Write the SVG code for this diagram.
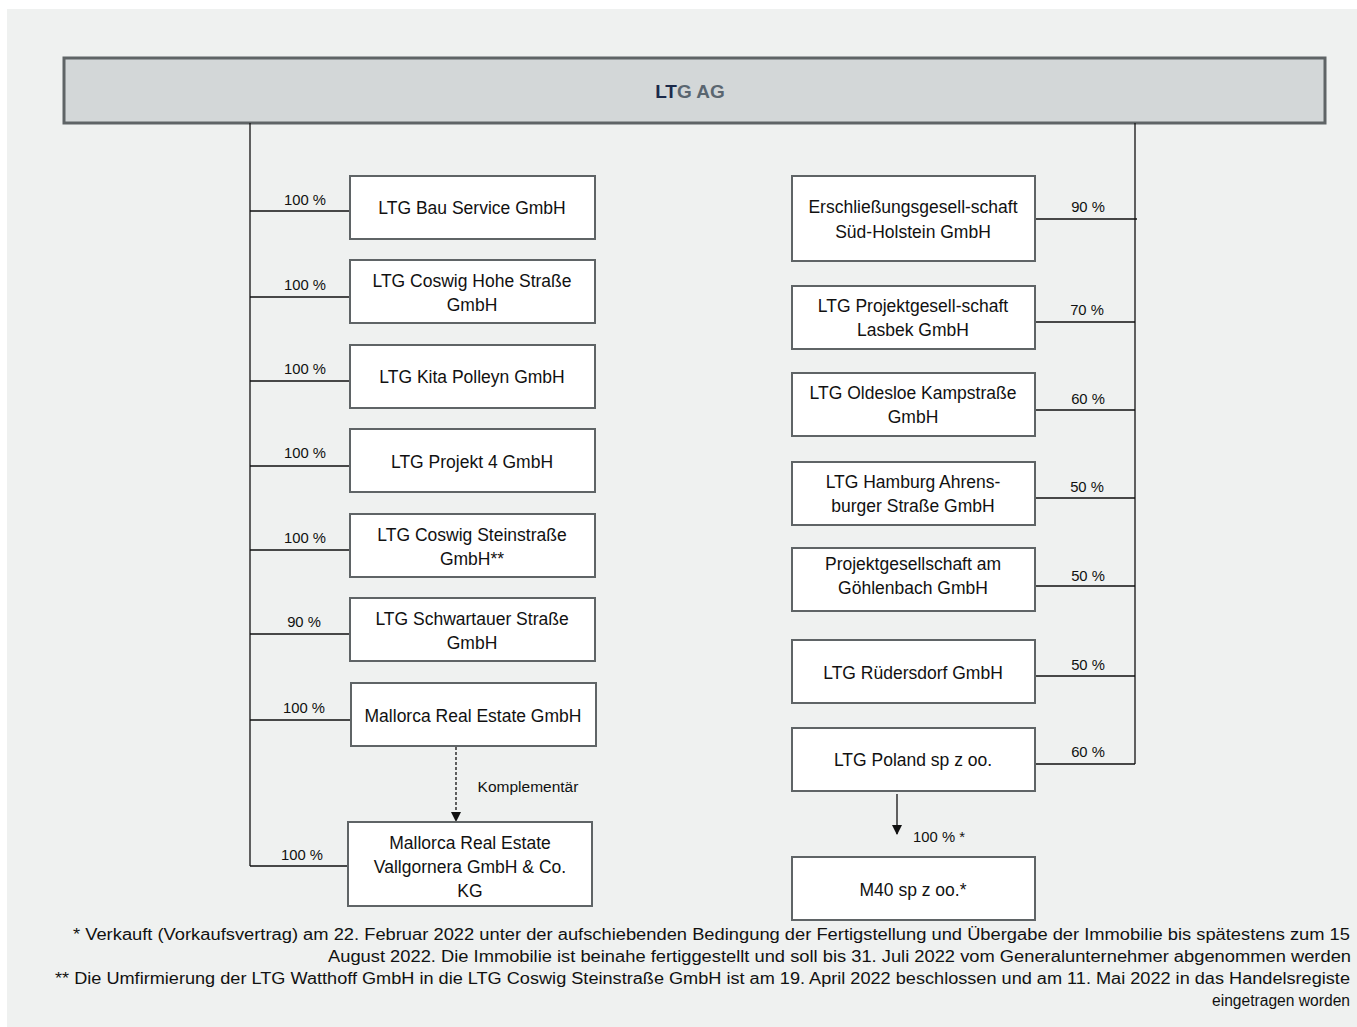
<svg xmlns="http://www.w3.org/2000/svg" width="1357" height="1027" viewBox="0 0 1357 1027">
<defs>
<style>
.bg{fill:#eff1f0}
.box{fill:#ffffff;stroke:#5f6466;stroke-width:2}
.top{fill:#d3d7d8;stroke:#5f6466;stroke-width:3}
.t{font-family:"Liberation Sans",Arial,sans-serif;font-size:17.5px;fill:#111;text-anchor:middle}
.p{font-family:"Liberation Sans",Arial,sans-serif;font-size:14.8px;fill:#111;text-anchor:middle}
.f{font-family:"Liberation Sans",Arial,sans-serif;font-size:16px;fill:#111;text-anchor:end}
.ln{stroke:#111;stroke-width:1.3;fill:none}
</style>
<marker id="ah" viewBox="0 0 10 10" refX="9" refY="5" markerWidth="10" markerHeight="10" markerUnits="userSpaceOnUse" orient="auto">
<path d="M0,0 L10,5 L0,10 z" fill="#111"/>
</marker>
</defs>
<rect class="bg" x="7" y="9" width="1350" height="1018"/>

<g id="root">
<rect class="top" x="64" y="58" width="1261" height="65"/>
<text x="690" y="98" style="font-family:'Liberation Sans',Arial,sans-serif;font-size:19px;font-weight:bold;text-anchor:middle"><tspan fill="#1b2a4a">LT</tspan><tspan fill="#5a6670">G AG</tspan></text>
</g>

<g id="connectors">
<path class="ln" d="M250,123 V866"/>
<path class="ln" d="M250,211 H350 M250,297 H350 M250,381 H350 M250,466 H350 M250,550 H350 M250,634 H350 M250,720 H350 M250,866 H348"/>
<path class="ln" d="M1135,123 V764"/>
<path class="ln" d="M1035,219 H1137 M1035,322 H1135 M1035,410 H1135 M1035,498 H1135 M1035,586 H1135 M1035,676 H1135 M1035,764 H1135"/>
<path class="ln" d="M456,747 V821" stroke-dasharray="3,2" marker-end="url(#ah)"/>
<path class="ln" d="M897,794 V834" marker-end="url(#ah)"/>
<text class="p" x="305" y="205">100 %</text>
<text class="p" x="305" y="290">100 %</text>
<text class="p" x="305" y="374">100 %</text>
<text class="p" x="305" y="458">100 %</text>
<text class="p" x="305" y="543">100 %</text>
<text class="p" x="304" y="627">90 %</text>
<text class="p" x="304" y="713">100 %</text>
<text class="p" x="302" y="860">100 %</text>
<text class="p" x="528" y="792" style="font-size:15.5px">Komplementär</text>
<text class="p" x="1088" y="212">90 %</text>
<text class="p" x="1087" y="315">70 %</text>
<text class="p" x="1088" y="404">60 %</text>
<text class="p" x="1087" y="492">50 %</text>
<text class="p" x="1088" y="581">50 %</text>
<text class="p" x="1088" y="670">50 %</text>
<text class="p" x="1088" y="757">60 %</text>
<text class="p" x="939" y="842">100 % *</text>
</g>

<g id="n1"><rect class="box" x="350" y="176" width="245" height="63"/><text class="t" x="472" y="214">LTG Bau Service GmbH</text></g>
<g id="n2"><rect class="box" x="350" y="260" width="245" height="63"/><text class="t" x="472" y="287">LTG Coswig Hohe Straße</text><text class="t" x="472" y="311">GmbH</text></g>
<g id="n3"><rect class="box" x="350" y="345" width="245" height="63"/><text class="t" x="472" y="383">LTG Kita Polleyn GmbH</text></g>
<g id="n4"><rect class="box" x="350" y="429" width="245" height="63"/><text class="t" x="472" y="468">LTG Projekt 4 GmbH</text></g>
<g id="n5"><rect class="box" x="350" y="514" width="245" height="63"/><text class="t" x="472" y="541">LTG Coswig Steinstraße</text><text class="t" x="472" y="565">GmbH**</text></g>
<g id="n6"><rect class="box" x="350" y="598" width="245" height="63"/><text class="t" x="472" y="625">LTG Schwartauer Straße</text><text class="t" x="472" y="649">GmbH</text></g>
<g id="n7"><rect class="box" x="351" y="683" width="245" height="63"/><text class="t" x="473" y="722">Mallorca Real Estate GmbH</text></g>
<g id="n8"><rect class="box" x="348" y="822" width="244" height="84"/><text class="t" x="470" y="849">Mallorca Real Estate</text><text class="t" x="470" y="873">Vallgornera GmbH &amp; Co.</text><text class="t" x="470" y="897">KG</text></g>

<g id="m1"><rect class="box" x="792" y="176" width="243" height="85"/><text class="t" x="913" y="213">Erschließungsgesell-schaft</text><text class="t" x="913" y="238">Süd-Holstein GmbH</text></g>
<g id="m2"><rect class="box" x="792" y="286" width="243" height="63"/><text class="t" x="913" y="312">LTG Projektgesell-schaft</text><text class="t" x="913" y="336">Lasbek GmbH</text></g>
<g id="m3"><rect class="box" x="792" y="373" width="243" height="63"/><text class="t" x="913" y="399">LTG Oldesloe Kampstraße</text><text class="t" x="913" y="423">GmbH</text></g>
<g id="m4"><rect class="box" x="792" y="462" width="243" height="63"/><text class="t" x="913" y="488">LTG Hamburg Ahrens-</text><text class="t" x="913" y="512">burger Straße GmbH</text></g>
<g id="m5"><rect class="box" x="792" y="548" width="243" height="63"/><text class="t" x="913" y="570">Projektgesellschaft am</text><text class="t" x="913" y="594">Göhlenbach GmbH</text></g>
<g id="m6"><rect class="box" x="792" y="640" width="243" height="63"/><text class="t" x="913" y="679">LTG Rüdersdorf GmbH</text></g>
<g id="m7"><rect class="box" x="792" y="728" width="243" height="63"/><text class="t" x="913" y="766">LTG Poland sp z oo.</text></g>
<g id="m8"><rect class="box" x="792" y="857" width="243" height="63"/><text class="t" x="913" y="896">M40 sp z oo.*</text></g>

<g id="notes">
<text class="f" x="1350" y="940" textLength="1277" lengthAdjust="spacingAndGlyphs">* Verkauft (Vorkaufsvertrag) am 22. Februar 2022 unter der aufschiebenden Bedingung der Fertigstellung und Übergabe der  Immobilie bis spätestens zum 15</text>
<text class="f" x="1351" y="962" textLength="1023" lengthAdjust="spacingAndGlyphs">August 2022. Die Immobilie ist beinahe fertiggestellt und soll bis 31. Juli 2022 vom Generalunternehmer abgenommen werden</text>
<text class="f" x="1350" y="984" textLength="1295" lengthAdjust="spacingAndGlyphs">** Die Umfirmierung der LTG Watthoff GmbH in die LTG Coswig Steinstraße GmbH ist am 19. April 2022 beschlossen und am 11. Mai 2022 in das Handelsregiste</text>
<text class="f" x="1350" y="1006" textLength="138" lengthAdjust="spacingAndGlyphs">eingetragen worden</text>
</g>
</svg>
